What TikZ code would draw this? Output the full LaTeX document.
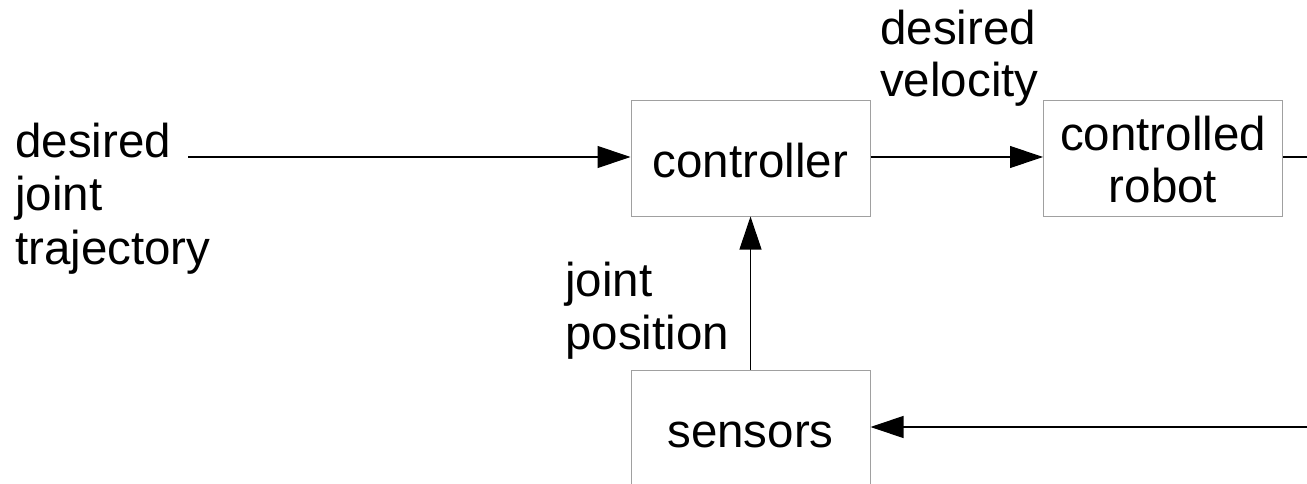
\documentclass[tikz,border=0pt]{standalone}
\usepackage{fontspec}
\setmainfont{Liberation Sans}
\usetikzlibrary{arrows.meta}
\begin{document}
\begin{tikzpicture}[x=1pt,y=-1pt,
  block/.style={draw={rgb,255:red,160;green,160;blue,160},line width=1pt,minimum width=239pt,minimum height=115pt,inner sep=0pt},
  txt/.style={anchor=base,inner sep=0pt,font=\fontsize{47.5}{53}\selectfont},
  lbl/.style={anchor=base west,inner sep=0pt,font=\fontsize{47.5}{53}\selectfont},
  conn/.style={line width=1.1pt,-{Triangle[length=33pt,width=22pt]}},
  plain/.style={line width=1.1pt}]
\useasboundingbox (0,0) rectangle (1307,484);
\clip (0,0) rectangle (1307,484);
\node[block] (ctrl) at (750.5,158.5) {};
\node[block] (robot) at (1163,158.5) {};
\node[block] (sens) at (750.5,427.5) {};
\node[txt] (tc) at (750.5,178) {controller};
\node[txt] (tr1) at (1163,150) {controlled};
\node[txt] (tr2) at (1163,203) {robot};
\node[txt] (ts) at (750.5,447) {sensors};
\node[lbl] (d1) at (15,158) {desired};
\node[lbl] (d2) at (15,211) {joint};
\node[lbl] (d3) at (15,264) {trajectory};
\node[lbl] (v1) at (880,45) {desired};
\node[lbl] (v2) at (880,97) {velocity};
\node[lbl] (p1) at (565,296) {joint};
\node[lbl] (p2) at (565,349) {position};
\coordinate (in) at (188,157);
\coordinate (outA) at (1307,157);
\coordinate (outB) at (1307,427);
\draw[conn] (in) -- (ctrl.west |- in);
\draw[conn] (ctrl.east |- in) -- (robot.west |- in);
\draw[plain] (robot.east |- in) -- (outA);
\draw[conn] (outB) -- (sens.east |- outB);
\draw[conn] (sens.north) -- (ctrl.south);
\end{tikzpicture}
\end{document}
